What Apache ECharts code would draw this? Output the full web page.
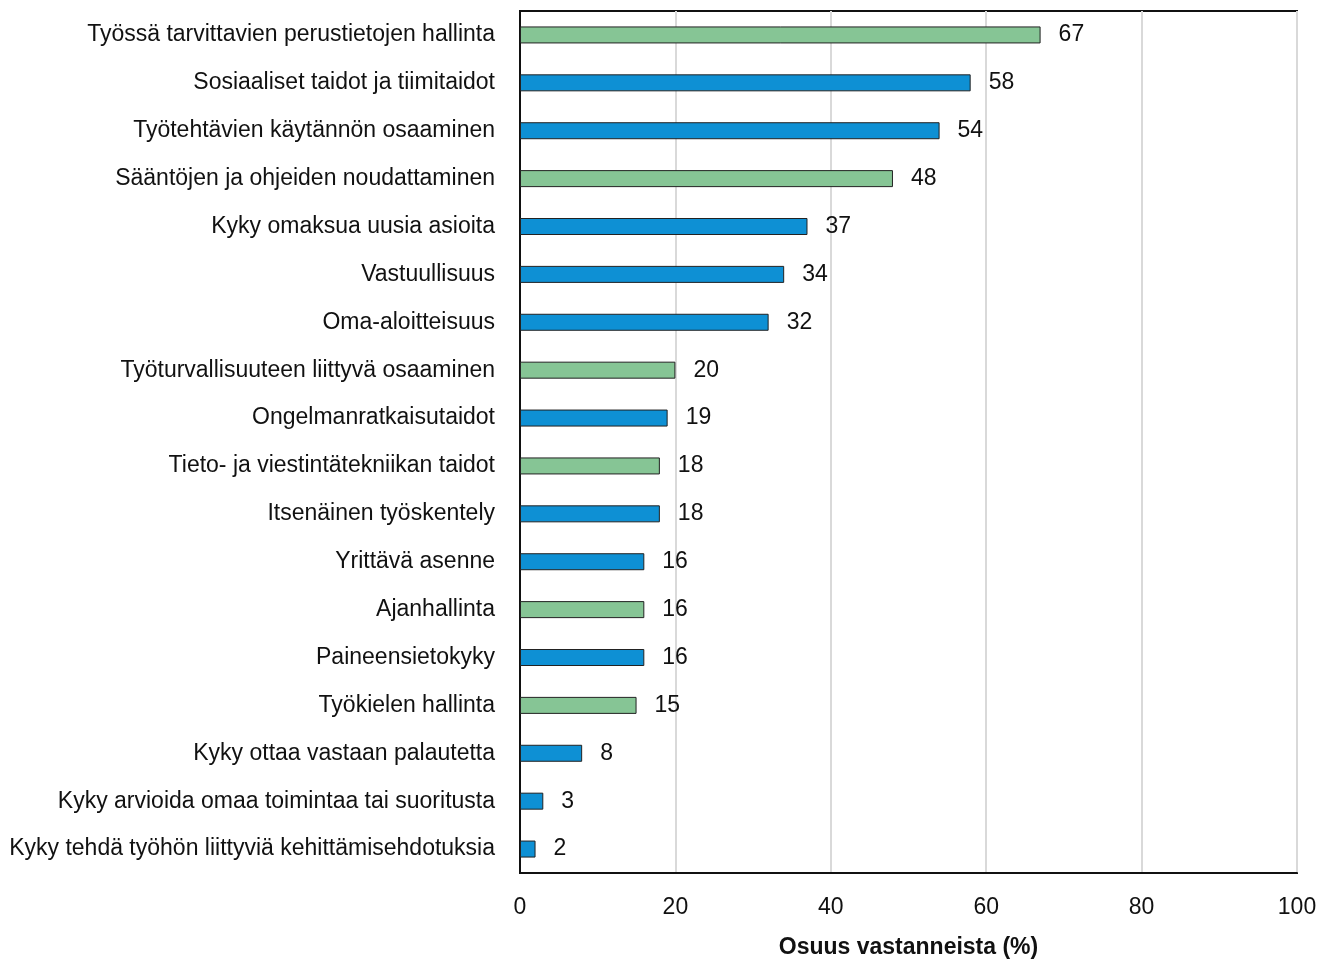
<!DOCTYPE html>
<html>
<head>
<meta charset="utf-8">
<script src="https://cdn.jsdelivr.net/npm/echarts@6/dist/echarts.min.js"></script>
<style>
  html, body { margin: 0; padding: 0; background: #fff; }
  #chart { width: 1330px; height: 967px; }
</style>
</head>
<body>
<div id="chart"></div>
<script>
const categories = [
  'Työssä tarvittavien perustietojen hallinta',
  'Sosiaaliset taidot ja tiimitaidot',
  'Työtehtävien käytännön osaaminen',
  'Sääntöjen ja ohjeiden noudattaminen',
  'Kyky omaksua uusia asioita',
  'Vastuullisuus',
  'Oma-aloitteisuus',
  'Työturvallisuuteen liittyvä osaaminen',
  'Ongelmanratkaisutaidot',
  'Tieto- ja viestintätekniikan taidot',
  'Itsenäinen työskentely',
  'Yrittävä asenne',
  'Ajanhallinta',
  'Paineensietokyky',
  'Työkielen hallinta',
  'Kyky ottaa vastaan palautetta',
  'Kyky arvioida omaa toimintaa tai suoritusta',
  'Kyky tehdä työhön liittyviä kehittämisehdotuksia'
];
const values = [67, 58, 54, 48, 37, 34, 32, 20, 19, 18, 18, 16, 16, 16, 15, 8, 3, 2];
// ryhmä: 'A' = vihreä, 'B' = sininen
const groups = ['A', 'B', 'B', 'A', 'B', 'B', 'B', 'A', 'B', 'A', 'B', 'B', 'A', 'B', 'A', 'B', 'B', 'B'];
const xTicks = [0, 20, 40, 60, 80, 100];

const GROUP_COLOR = { A: '#86C595', B: '#0E90D4' };
const FONT = '"Liberation Sans Narrow", "Arial Narrow", "Liberation Sans", Arial, sans-serif';

const chart = echarts.init(document.getElementById('chart'));

const seriesData = values.map((v, i) => ({
  value: v,
  itemStyle: { color: GROUP_COLOR[groups[i]] }
}));

chart.setOption({
  animation: false,
  backgroundColor: '#fff',
  grid: {
    left: 520,
    right: 33,
    top: 11,
    bottom: 94,
    containLabel: false,
    outerBoundsMode: 'none',
    show: true,
    borderColor: '#111',
    borderWidth: 2,
    backgroundColor: 'transparent'
  },
  xAxis: {
    type: 'value',
    min: xTicks[0],
    max: xTicks[xTicks.length - 1],
    interval: 20,
    name: 'Osuus vastanneista (%)',
    nameLocation: 'middle',
    nameGap: 63,
    nameTextStyle: {
      fontFamily: FONT,
      fontSize: 23,
      fontWeight: 'bold',
      color: '#111'
    },
    axisLine: { show: true, lineStyle: { color: '#111', width: 2 } },
    axisTick: { show: false },
    axisLabel: {
      fontFamily: FONT,
      fontSize: 23,
      color: '#111',
      margin: 23
    },
    splitLine: { show: true, lineStyle: { color: '#d9d9d9', width: 2 } }
  },
  yAxis: {
    type: 'category',
    inverse: true,
    data: categories,
    axisLine: { show: true, lineStyle: { color: '#111', width: 2 } },
    axisTick: { show: false },
    axisLabel: {
      fontFamily: FONT,
      fontSize: 23,
      color: '#111',
      margin: 25
    }
  },
  series: [{
    type: 'bar',
    data: seriesData,
    barWidth: 17,
    itemStyle: { borderColor: '#222', borderWidth: 1 },
    label: {
      show: true,
      position: 'right',
      distance: 18,
      fontFamily: FONT,
      fontSize: 23,
      color: '#111'
    }
  }]
});
</script>
</body>
</html>
